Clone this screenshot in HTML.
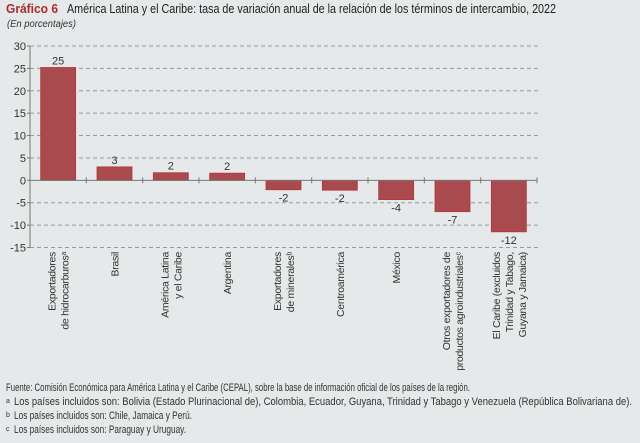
<!DOCTYPE html>
<html><head><meta charset="utf-8"><style>
html,body{margin:0;padding:0;background:#e5e9e9;}
svg{display:block;font-family:"Liberation Sans Narrow","Liberation Sans",sans-serif;}
</style></head><body>
<svg id="chart" width="640" height="443" viewBox="0 0 640 443" xmlns="http://www.w3.org/2000/svg">
<rect width="640" height="443" fill="#e5e9e9"/>
<text x="6" y="13" font-size="12.5" fill="#b0282e" font-weight="bold" textLength="52" lengthAdjust="spacingAndGlyphs">Gráfico 6</text>
<text x="67" y="13" font-size="12.5" fill="#222" textLength="489" lengthAdjust="spacingAndGlyphs">América Latina y el Caribe: tasa de variación anual de la relación de los términos de intercambio, 2022</text>
<text x="7" y="27" font-size="10" font-style="italic" fill="#333" textLength="69" lengthAdjust="spacingAndGlyphs">(En porcentajes)</text>
<g id="grid"></g>
<g id="bars"></g>
<g id="axes"></g>
<g id="labels"></g>
<g font-size="11" fill="#333">
<text x="6" y="391" textLength="464" lengthAdjust="spacingAndGlyphs">Fuente: Comisión Económica para América Latina y el Caribe (CEPAL), sobre la base de información oficial de los países de la región.</text>
<text x="6" y="403" font-size="7">a</text>
<text x="14" y="405" textLength="618" lengthAdjust="spacingAndGlyphs">Los países incluidos son: Bolivia (Estado Plurinacional de), Colombia, Ecuador, Guyana, Trinidad y Tabago y Venezuela (República Bolivariana de).</text>
<text x="6" y="417" font-size="7">b</text>
<text x="14" y="419" textLength="178" lengthAdjust="spacingAndGlyphs">Los países incluidos son: Chile, Jamaica y Perú.</text>
<text x="6" y="431" font-size="7">c</text>
<text x="14" y="433" textLength="172" lengthAdjust="spacingAndGlyphs">Los países incluidos son: Paraguay y Uruguay.</text>
</g>
</svg>
<script>
const categories = [
  ["Exportadores","de hidrocarburos\u1D43"],
  ["Brasil"],
  ["América Latina","y el Caribe"],
  ["Argentina"],
  ["Exportadores","de minerales\u1D47"],
  ["Centroamérica"],
  ["México"],
  ["Otros exportadores de","productos agroindustriales\u1D9C"],
  ["El Caribe (excluidos","Trinidad y Tabago,","Guyana y Jamaica)"]
];
const values = [25.2, 3.0, 1.7, 1.6, -2.1, -2.2, -4.3, -7.0, -11.5];
const valueLabels = ["25","3","2","2","-2","-2","-4","-7","-12"];
const yTicks = [30,25,20,15,10,5,0,-5,-10,-15];

const NS = "http://www.w3.org/2000/svg";
const x0 = 30, x1 = 537, yTop = 46, yBot = 247.5, vMax = 30, vMin = -15;
const n = categories.length;
const step = (x1 - x0) / n;
function yScale(v){ return yTop + (vMax - v) / (vMax - vMin) * (yBot - yTop); }
function xCenter(i){ return x0 + step * (i + 0.5); }
function mk(tag, attrs, parent){
  const e = document.createElementNS(NS, tag);
  for (const k in attrs) e.setAttribute(k, attrs[k]);
  parent.appendChild(e);
  return e;
}
const grid = document.getElementById('grid');
const bars = document.getElementById('bars');
const axes = document.getElementById('axes');
const labels = document.getElementById('labels');

yTicks.forEach(t => {
  const y = yScale(t);
  if (t !== 0) {
    const l = mk('line', {x1:x0, x2:x1+4, y1:y, y2:y, stroke:'#9a9a9a', 'stroke-width':1, 'stroke-dasharray':'4,3'}, grid);
    
    
  }
  const tk = mk('line', {x1:x0-3, x2:x0, y1:y, y2:y, stroke:'#777'}, axes);
  
  
  const tx = mk('text', {x:x0-4, y:y+4, 'text-anchor':'end', 'font-size':11, fill:'#333'}, axes);
  tx.textContent = String(t);
  
  
});

values.forEach((v, i) => {
  const cx = xCenter(i);
  const y = yScale(Math.max(v,0)), h = Math.abs(yScale(v) - yScale(0));
  const r = mk('rect', {x:cx-17.5, y:y, width:35, height:h, fill:'#a84a4e', stroke:'#b8343a', 'stroke-width':0.8}, bars);
  
  
  const ly = v >= 0 ? yScale(v) - 3 : yScale(v) + 12;
  const t = mk('text', {x:cx, y:ly, 'text-anchor':'middle', 'font-size':11, fill:'#333'}, bars);
  t.textContent = valueLabels[i];
  
  
  const lines = categories[i];
  const g = mk('g', {}, labels);
  
  
  lines.forEach((s, j) => {
    const lx = cx + (j - (lines.length - 1) / 2) * 13 + 4;
    const tt = mk('text', {x:lx, y:252, 'text-anchor':'end', 'font-size':10.5, 'letter-spacing':'-0.3', fill:'#333', transform:'rotate(-90 '+lx+' 252)'}, g);
    tt.textContent = s;
  });
});

const ya = mk('line', {x1:x0, x2:x0, y1:yTop, y2:yBot, stroke:'#777'}, axes);


const za = mk('line', {x1:x0, x2:x1, y1:yScale(0), y2:yScale(0), stroke:'#777'}, axes);


for (let i = 1; i <= n; i++) {
  const xx = x0 + step * i;
  const tk = mk('line', {x1:xx, x2:xx, y1:yScale(0)-3, y2:yScale(0)+3, stroke:'#777'}, axes);
  
  
}
</script>
</body></html>
